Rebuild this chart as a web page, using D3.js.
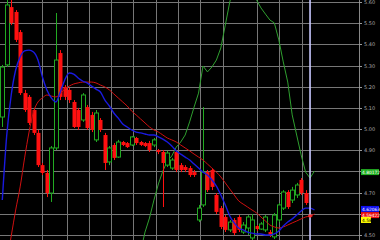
<!DOCTYPE html>
<html><head><meta charset="utf-8">
<script src="https://cdn.jsdelivr.net/npm/d3@7"></script>
<style>html,body{margin:0;padding:0;background:#000;overflow:hidden}</style>
</head><body>
<svg id="c" width="380" height="240"></svg>
<script>
// ---- data (prices) ----
const opens  = [5.057,5.303,5.576,5.553,5.458,5.170,5.152,5.090,4.982,4.830,4.793,4.698,4.911,5.359,5.199,5.185,5.128,5.090,5.043,5.104,5.067,4.949,5.043,4.972,4.845,4.925,4.868,4.939,4.934,4.925,4.958,4.939,4.934,4.934,4.925,4.901,4.892,4.830,4.816,4.892,4.830,4.821,4.816,4.797,4.571,4.642,4.797,4.807,4.689,4.627,4.585,4.524,4.571,4.585,4.514,4.533,4.486,4.542,4.528,4.524,4.514,4.491,4.571,4.627,4.703,4.665,4.689,4.760,4.698,4.594];
const highs  = [5.303,5.633,5.610,5.562,5.468,5.185,5.161,5.100,4.996,4.840,4.807,4.920,5.548,5.373,5.208,5.194,5.137,5.100,5.170,5.114,5.081,5.090,5.052,4.982,4.920,4.934,4.949,4.944,4.939,4.967,4.963,4.944,4.939,4.944,4.958,4.906,4.901,4.897,4.864,4.901,4.840,4.830,4.826,4.807,4.642,5.104,4.807,4.816,4.698,4.637,4.594,4.571,4.580,4.594,4.561,4.594,4.599,4.547,4.561,4.594,4.524,4.604,4.651,4.712,4.712,4.727,4.746,4.769,4.712,4.599];
const lows   = [5.010,5.293,5.491,5.411,5.161,5.081,5.019,4.972,4.821,4.783,4.679,4.656,4.901,5.137,5.137,5.123,5.005,4.996,5.034,4.996,4.986,4.939,4.986,4.807,4.830,4.854,4.864,4.920,4.911,4.920,4.925,4.920,4.915,4.892,4.915,4.882,4.632,4.821,4.807,4.797,4.797,4.797,4.774,4.774,4.561,4.632,4.703,4.712,4.599,4.528,4.514,4.514,4.500,4.514,4.505,4.500,4.467,4.519,4.524,4.514,4.491,4.481,4.561,4.618,4.623,4.651,4.675,4.689,4.642,4.585];
const closes = [5.293,5.586,5.501,5.421,5.170,5.090,5.029,4.982,4.830,4.793,4.698,4.911,5.326,5.152,5.152,5.137,5.010,5.010,5.161,5.005,4.996,5.076,4.996,4.840,4.911,4.864,4.939,4.925,4.915,4.963,4.934,4.925,4.920,4.901,4.949,4.892,4.840,4.887,4.854,4.807,4.807,4.807,4.783,4.783,4.627,4.797,4.712,4.727,4.609,4.538,4.524,4.561,4.509,4.524,4.547,4.585,4.571,4.528,4.552,4.585,4.500,4.594,4.642,4.703,4.632,4.712,4.736,4.698,4.651,4.590];
const maFast = [4.665,4.972,5.161,5.279,5.340,5.369,5.373,5.364,5.326,5.246,5.185,5.147,5.128,5.175,5.232,5.265,5.260,5.241,5.227,5.218,5.203,5.189,5.175,5.137,5.109,5.076,5.052,5.024,5.010,4.996,4.986,4.982,4.977,4.972,4.972,4.963,4.953,4.939,4.920,4.897,4.882,4.868,4.854,4.835,4.816,4.797,4.783,4.760,4.731,4.689,4.642,4.590,4.557,4.533,4.524,4.514,4.509,4.505,4.505,4.500,4.500,4.505,4.519,4.542,4.561,4.576,4.594,4.613,4.627,4.627,4.618];
const maSlow = [4.240,4.373,4.495,4.618,4.727,4.864,4.986,5.081,5.128,5.147,5.161,5.156,5.152,5.166,5.189,5.203,5.213,5.218,5.222,5.222,5.222,5.218,5.208,5.199,5.185,5.166,5.147,5.128,5.109,5.085,5.067,5.048,5.029,5.010,4.996,4.986,4.972,4.958,4.949,4.939,4.925,4.911,4.897,4.882,4.868,4.854,4.835,4.816,4.797,4.774,4.746,4.717,4.689,4.661,4.646,4.632,4.618,4.604,4.585,4.566,4.547,4.538,4.533,4.538,4.547,4.557,4.566,4.576,4.585,4.590,4.599];
const oscStart = 31;
const oscLine = [4.420,4.514,4.580,4.665,4.741,4.802,4.849,4.873,4.915,4.939,4.972,5.034,5.104,5.170,5.298,5.270,5.293,5.326,5.383,5.491,5.600,5.680,5.751,5.798,5.775,5.680,5.610,5.572,5.543,5.515,5.501,5.421,5.317,5.222,5.067,4.972,4.878,4.797,4.769,4.802];
const yTicks = [4.50,4.60,4.70,4.80,4.90,5.00,5.10,5.20,5.30,5.40,5.50,5.60];
const gridBars = [8.9,14.5,19.4,24.4,29.4,34.5,39.5,44.3,49.4,57.0,62.1,67.1];
const cursorBar = 69;
const tagLabels = ["4.80172","4.62063","4.59422","4.58"];
const tagValues = [4.797,4.623,4.594,4.571];
const tagFills  = ["#22b022","#1010f0","#ee1010","#ffff00"];
const tagInk    = ["#ffffff","#ffffff","#ffffff","#000000"];

// ---- drawing ----
const W = 380, H = 240, plotR = 359;
const svg = d3.select("#c");
svg.append("rect").attr("width",W).attr("height",H).attr("fill","#000");
const x = d3.scaleLinear().domain([0,80]).range([2.3,359.1]);
const y = d3.scaleLinear().domain([4.5,5.6]).range([235,2]);

svg.append("defs").append("clipPath").attr("id","pc")
  .append("rect").attr("x",0).attr("y",0).attr("width",plotR).attr("height",H);
const g = svg.append("g").attr("clip-path","url(#pc)");

// grid
g.selectAll(".hg").data(yTicks).join("line")
  .attr("x1",0).attr("x2",plotR)
  .attr("y1",d=>Math.round(y(d))+0.5).attr("y2",d=>Math.round(y(d))+0.5)
  .attr("stroke","#777").attr("stroke-width",1);
g.selectAll(".vg").data(gridBars).join("line")
  .attr("x1",d=>Math.round(x(d))+0.5).attr("x2",d=>Math.round(x(d))+0.5)
  .attr("y1",0).attr("y2",H)
  .attr("stroke","#777").attr("stroke-width",1);

// green indicator line
const oscData = oscLine.map((v,i)=>({i:i+oscStart,v}));
g.append("path").datum(oscData)
  .attr("fill","none").attr("stroke","#2fa02f").attr("stroke-width",1)
  .attr("d",d3.line().x(d=>x(d.i)).y(d=>y(d.v)));

// candles
const candles = opens.map((o,i)=>({i,o,h:highs[i],l:lows[i],c:closes[i]}));
const cg = g.append("g");
candles.forEach(d=>{
  const up = d.c >= d.o;
  const col = up ? "#22aa22" : "#ff1010";
  const cx = Math.round(x(d.i));
  cg.append("line").attr("x1",cx+0.5).attr("x2",cx+0.5)
    .attr("y1",y(d.h)).attr("y2",y(d.l)).attr("stroke",col).attr("stroke-width",1);
  const top = y(Math.max(d.o,d.c)), bot = y(Math.min(d.o,d.c));
  if (up) {
    cg.append("rect").attr("x",cx-1.5).attr("y",top).attr("width",4).attr("height",Math.max(1,bot-top))
      .attr("fill","#000").attr("stroke",col).attr("stroke-width",1);
  } else {
    cg.append("rect").attr("x",cx-1.5).attr("y",top).attr("width",4).attr("height",Math.max(1.5,bot-top))
      .attr("fill",col);
  }
});

// moving averages
const line = d3.line().x((d,i)=>x(i)).y(d=>y(d)).curve(d3.curveMonotoneX);
g.append("path").datum(maSlow).attr("fill","none").attr("stroke","#d01010").attr("stroke-width",1).attr("d",line);
g.append("path").datum(maFast).attr("fill","none").attr("stroke","#1a1ae0").attr("stroke-width",1.4).attr("d",line);

// cursor line
g.append("line").attr("x1",x(cursorBar)).attr("x2",x(cursorBar)).attr("y1",0).attr("y2",H)
  .attr("stroke","#c8c8ff").attr("stroke-width",1.6);
g.append("circle").attr("cx",x(cursorBar)).attr("cy",y(maSlow[cursorBar])).attr("r",1.8).attr("fill","#ff3030");

// right axis
svg.append("line").attr("x1",plotR+0.5).attr("x2",plotR+0.5).attr("y1",0).attr("y2",H).attr("stroke","#888");
const ax = svg.append("g");
ax.selectAll("line").data(yTicks).join("line")
  .attr("x1",plotR).attr("x2",plotR+3)
  .attr("y1",d=>Math.round(y(d))+0.5).attr("y2",d=>Math.round(y(d))+0.5).attr("stroke","#999");
// tick labels that sit under a price tag are hidden by it
const tagYs = tagValues.map(v=>y(v));
const visibleTicks = yTicks.filter(t=>tagYs.every(ty=>Math.abs(ty-y(t))>5));
ax.selectAll("text").data(visibleTicks).join("text")
  .attr("x",364).attr("y",d=>y(d)+2)
  .attr("fill","#aaa").attr("font-family","DejaVu Sans, sans-serif").attr("font-size",5)
  .text(d=>d3.format(".2f")(d));

// price tags
tagLabels.forEach((t,k)=>{
  const yy = y(tagValues[k]);
  const w = t.length > 4 ? 18 : 10;
  svg.append("rect").attr("x",361).attr("y",yy-3).attr("width",w).attr("height",6).attr("fill",tagFills[k]);
  svg.append("text").attr("x",362).attr("y",yy+1.8).attr("fill",tagInk[k])
    .attr("font-family","DejaVu Sans, sans-serif").attr("font-size",4.4).text(t);
});
</script>
</body></html>
